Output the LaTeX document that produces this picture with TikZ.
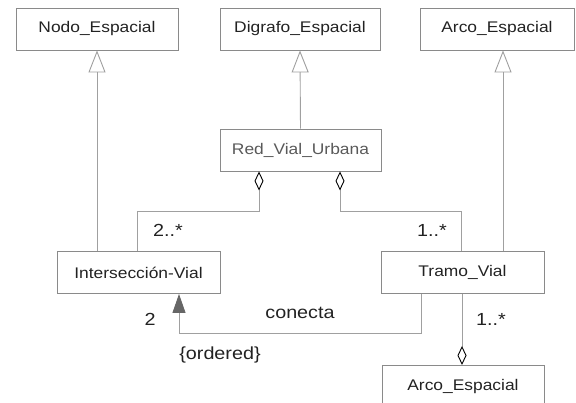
\documentclass[tikz,border=0pt]{standalone}
\usepackage{fontspec}
\setmainfont{Liberation Sans}[FakeStretch=1.13]
\usetikzlibrary{arrows.meta}
\definecolor{boxline}{HTML}{8A8A8A}
\definecolor{conn}{HTML}{A0A0A0}
\definecolor{txt}{HTML}{222222}
\begin{document}
\begin{tikzpicture}[x=1pt,y=-1pt,
  cls/.style={draw=boxline, line width=0.9pt, minimum height=42pt, inner sep=0pt,
    font=\fontsize{15.4}{18}\selectfont, text=txt},
  lbl/.style={font=\fontsize{17.5}{20}\selectfont, text=txt, inner sep=0pt},
  conline/.style={draw=conn, line width=0.9pt},
  gen/.style={conline, -{Triangle[open, width=17pt, length=22pt, fill=white]}},
  agg/.style={conline, {Diamond[open, width=9pt, length=19pt, color=black, fill=white, line width=0.9pt]}-},
  nav/.style={conline, -{Triangle[width=13pt, length=19pt, color=black!60]}}]
\useasboundingbox (0,0) rectangle (576,403);
% classes
\node[cls, minimum width=162pt] (nodo) at (97,29) {Nodo\_Espacial};
\node[cls, minimum width=160pt] (digrafo) at (300,29) {Digrafo\_Espacial};
\node[cls, minimum width=154pt] (arcoT) at (497,29) {Arco\_Espacial};
\node[cls, minimum width=161pt, text=black!65] (red) at (300.5,150) {Red\_Vial\_Urbana};
\node[cls, minimum width=163pt] (inter) at (138.5,272.5) {Intersección-Vial};
\node[cls, minimum width=163pt] (tramo) at (462.5,272.5) {Tramo\_Vial};
\node[cls, minimum width=162pt, anchor=north] (arcoB) at (463,365) {Arco\_Espacial};
% helper coordinates
\coordinate (xn) at (97,0);
\coordinate (xa) at (503,0);
\coordinate (d1) at (259,211);
\coordinate (e1) at (137,211);
\coordinate (d2) at (340,211);
\coordinate (e2) at (461,211);
\coordinate (c1) at (421,333);
\coordinate (c2) at (179,333);
\coordinate (xt) at (462,0);
% generalizations
\draw[gen] (inter.north -| xn) -- (nodo.south -| xn);
\draw[gen] (red.north) -- (digrafo.south);
\draw[gen] (tramo.north -| xa) -- (arcoT.south -| xa);
% aggregations
\draw[agg] (red.south -| d1) -- (d1) -- (e1) -- (inter.north -| e1);
\draw[agg] (red.south -| d2) -- (d2) -- (e2) -- (tramo.north -| e2);
\draw[agg] (arcoB.north -| xt) -- (tramo.south -| xt);
% conecta association
\draw[nav] (tramo.south -| c1) -- (c1) -- (c2) -- (inter.south -| c2);
% labels
\node[lbl, anchor=west] (m1) at (153,230) {2..*};
\node[lbl, anchor=west] (m2) at (417,230) {1..*};
\node[lbl] (m3) at (150,319) {2};
\node[lbl] (m4) at (300,313) {conecta};
\node[lbl] (m5) at (220,355) {\{ordered\}};
\node[lbl, anchor=west] (m6) at (476,319) {1..*};
\end{tikzpicture}
\end{document}
